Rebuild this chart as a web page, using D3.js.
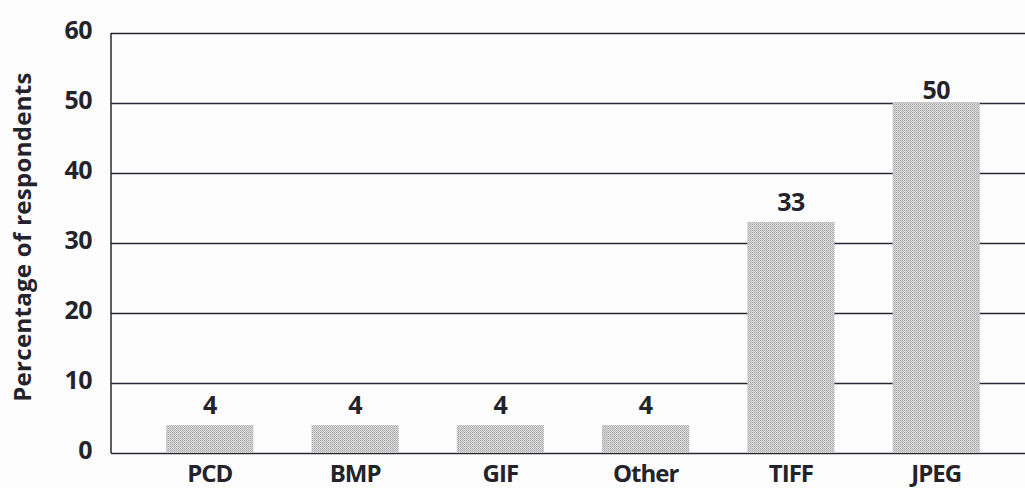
<!DOCTYPE html>
<html>
<head>
<meta charset="utf-8">
<script src="https://cdn.jsdelivr.net/npm/d3@7"></script>
<style>
  html, body { margin: 0; padding: 0; background: #fdfdfd; }
  svg { display: block; }
  text { font-family: "Open Sans", "Liberation Sans", sans-serif; font-weight: 700; fill: #24232b; }
</style>
</head>
<body>
<svg id="chart" width="1025" height="488"></svg>
<script>
// Image file formats preferred by respondents
const categories = ["PCD", "BMP", "GIF", "Other", "TIFF", "JPEG"];
const values = [4, 4, 4, 4, 33, 50];
const yTicks = [0, 10, 20, 30, 40, 50, 60];
const yTitle = "Percentage of respondents";

const W = 1025, H = 488;
const margin = { top: 33, right: 0, bottom: 35, left: 111 };

const svg = d3.select("#chart");

// fine halftone fill for the bars
const defs = svg.append("defs");
const pat = defs.append("pattern")
  .attr("id", "halftone")
  .attr("width", 2).attr("height", 2)
  .attr("patternUnits", "userSpaceOnUse");
pat.append("rect").attr("width", 2).attr("height", 2).attr("fill", "#d8d8d8");
pat.append("rect").attr("width", 1).attr("height", 1).attr("fill", "#adadad");
pat.append("rect").attr("x", 1).attr("y", 1).attr("width", 1).attr("height", 1).attr("fill", "#bcbcbc");

const y = d3.scaleLinear()
  .domain([0, 60])
  .range([H - margin.bottom, margin.top]);

const x = d3.scaleBand()
  .domain(categories)
  .range([margin.left, 1035])
  .paddingInner(0.4)
  .paddingOuter(0.38);

// horizontal rules at each tick
const yAxis = d3.axisLeft(y)
  .tickValues(yTicks)
  .tickSize(-(W - margin.left))
  .tickPadding(19);

const gy = svg.append("g")
  .attr("transform", `translate(${margin.left},0)`)
  .call(yAxis);
gy.select(".domain")
  .attr("d", `M0,${y(0)}V${y(60)}`)
  .attr("stroke", "#2a2933")
  .attr("stroke-width", 1.5);
gy.selectAll(".tick line")
  .attr("stroke", "#2a2933")
  .attr("stroke-width", 1.5);
gy.selectAll(".tick text")
  .attr("font-size", 25)
  .attr("font-family", "'Open Sans', sans-serif")
  .attr("font-weight", 700)
  .attr("fill", "#24232b")
  .attr("letter-spacing", "-0.5px")
  .attr("dy", "0.2em");

// axis title
svg.append("text")
  .attr("transform", `translate(31,${(y(0) + y(60)) / 2 - 6}) rotate(-90)`)
  .attr("text-anchor", "middle")
  .attr("font-size", 24)
  .attr("font-weight", 600)
  .attr("letter-spacing", "0.3px")
  .text(yTitle);

// bars
svg.append("g").selectAll("rect")
  .data(categories)
  .join("rect")
  .attr("x", d => x(d))
  .attr("width", x.bandwidth())
  .attr("y", (d, i) => y(values[i]))
  .attr("height", (d, i) => y(0) - y(values[i]))
  .attr("fill", "url(#halftone)");

// value labels
svg.append("g").selectAll("text")
  .data(categories)
  .join("text")
  .attr("x", d => x(d) + x.bandwidth() / 2)
  .attr("y", (d, i) => y(values[i]) - (values[i] >= 50 ? 4 : 11))
  .attr("text-anchor", "middle")
  .attr("font-size", 25)
  .attr("letter-spacing", "-0.5px")
  .text((d, i) => values[i]);

// category labels
const xAxis = d3.axisBottom(x).tickSize(0).tickPadding(0);
const gx = svg.append("g")
  .attr("transform", `translate(0,${y(0)})`)
  .call(xAxis);
gx.select(".domain").remove();
gx.selectAll(".tick text")
  .attr("font-size", 24)
  .attr("font-family", "'Open Sans', sans-serif")
  .attr("font-weight", 700)
  .attr("fill", "#24232b")
  .attr("letter-spacing", "-1px")
  .attr("dy", "1.2em");
</script>
</body>
</html>
